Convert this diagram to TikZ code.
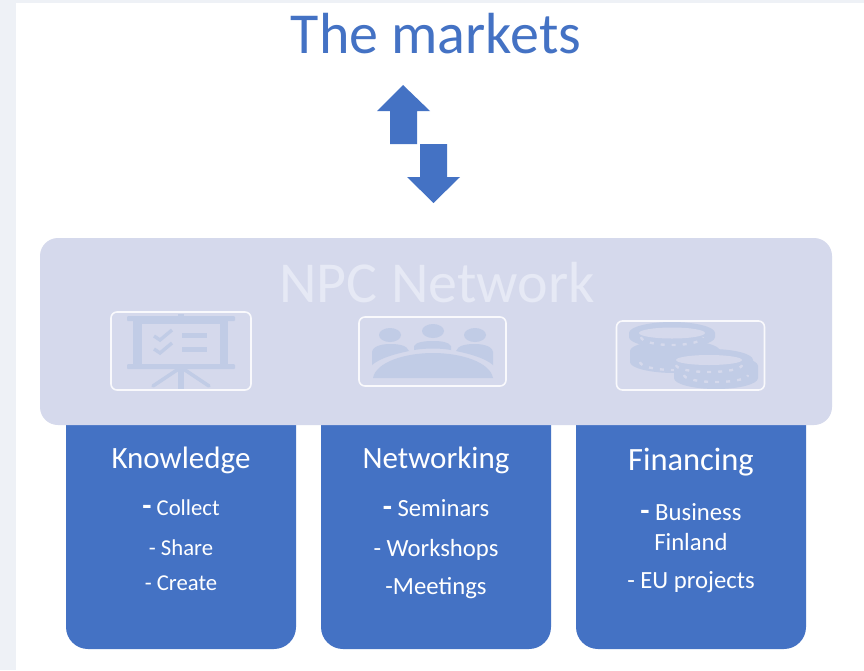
\documentclass[tikz,border=0pt]{standalone}
\usepackage{fontspec}
\setmainfont{Carlito}
\definecolor{mainblue}{HTML}{4472C4}
\definecolor{panelblue}{HTML}{D5D9EC}
\definecolor{iconblue}{HTML}{C1CCE6}
\definecolor{pagegrey}{HTML}{EEF1F6}
\definecolor{paneltext}{HTML}{E6E9F5}
\newcommand{\coinshape}[4]{% cx, cy, rx, height (y axis points down)
  \fill[iconblue] (#1-#3,#2) arc (180:360:#3 and 11) -- ++(0,#4) arc (0:180:#3 and 11) -- cycle;
}
\newcommand{\bigdashfont}{\fontsize{30}{30}\selectfont\bfseries}
\tikzset{
  panelbox/.style={fill=panelblue,rounded corners=18pt,inner sep=0pt,outer sep=0pt,minimum width=792pt,minimum height=187pt},
  column/.style={fill=mainblue,rounded corners=22pt,inner sep=0pt,outer sep=0pt,minimum width=230pt,minimum height=269pt},
  iconbox/.style={draw=white!85!panelblue,line width=1.6pt,rounded corners=6pt,inner sep=0pt,outer sep=0pt},
  bigarrow/.style={fill=mainblue},
  heading/.style={text=white,font=\fontsize{31}{31}\selectfont,inner sep=0pt},
  headingwide/.style={text=white,font=\fontsize{32.5}{32.5}\selectfont,inner sep=0pt},
  itemsmall/.style={text=white,font=\fontsize{22.7}{22.7}\selectfont,inner sep=0pt},
  item/.style={text=white,font=\fontsize{24.7}{24.7}\selectfont,inner sep=0pt},
  iconline/.style={draw=iconblue,line cap=round},
  coindash/.style={draw=panelblue,line width=2.4pt,dash pattern=on 4pt off 7pt},
}
\begin{document}
\begin{tikzpicture}[x=1pt,y=-1pt]
\useasboundingbox (0,0) rectangle (864,670);
\fill[pagegrey] (0,0) rectangle (864,670);
\fill[white] (16,3) rectangle (864,670);

\node[text=mainblue,font=\fontsize{58}{58}\selectfont,inner sep=0pt] (title) at (436,34) {The markets};

\fill[bigarrow] (403,85) -- (430,111) -- (417,111) -- (417,144) -- (390,144) -- (390,111) -- (377,111) -- cycle;
\fill[bigarrow] (420,144) -- (447,144) -- (447,177) -- (460,177) -- (433.5,203) -- (407,177) -- (420,177) -- cycle;

\node[column] (colA) at (181,514.5) {};
\node[column] (colB) at (436,514.5) {};
\node[column] (colC) at (691,514.5) {};
\node[panelbox] (panel) at (436,331.5) {};

\node[text=paneltext,font=\fontsize{58}{58}\selectfont,inner sep=0pt] (npc) at (437,283) {NPC Network};

% icon 1: presentation board
\fill[iconblue,rounded corners=1pt] (127,316) rectangle (235,321);
\fill[iconblue] (178,314) rectangle (184,318);
\fill[iconblue] (133,318) rectangle (142,366);
\fill[iconblue] (220,318) rectangle (228,366);
\fill[iconblue] (133,318) rectangle (228,324);
\fill[iconblue,rounded corners=1pt] (127,364) rectangle (235,369);
\fill[iconblue] (178,368) rectangle (184,389);
\draw[iconline,line width=3.5pt] (180,368) -- (153,386);
\draw[iconline,line width=3.5pt] (182,368) -- (209,386);
\draw[iconline,line width=3.4pt,line cap=butt] (154,336) -- (160,340) -- (172,330);
\draw[iconline,line width=3.4pt,line cap=butt] (154,349) -- (160,353) -- (172,343);
\fill[iconblue] (182,333) rectangle (207,338);
\fill[iconblue] (182,347) rectangle (207,352);
\node[iconbox,minimum width=140pt,minimum height=78pt] (iconA) at (181,351) {};

% icon 2: meeting
\fill[iconblue] (390,335) ellipse (11 and 7);
\fill[iconblue] (433,331) ellipse (11 and 7);
\fill[iconblue] (475,335) ellipse (11 and 7);
\fill[iconblue] (372,365) -- (372,352) .. controls (373,345) and (385,344) .. (390,344) .. controls (398,344) and (407,345) .. (409,351) .. controls (395,354) and (380,358) .. (372,365) -- cycle;
\fill[iconblue] (493,365) -- (493,352) .. controls (492,345) and (480,344) .. (475,344) .. controls (467,344) and (458,345) .. (456,351) .. controls (470,354) and (485,358) .. (493,365) -- cycle;
\fill[iconblue] (414,350) -- (414,346) .. controls (416,342) and (425,341) .. (433,341) .. controls (441,341) and (449,342) .. (451,346) -- (451,350) .. controls (440,348) and (426,348) .. (414,350) -- cycle;
\fill[iconblue] (373,378) .. controls (376,362) and (405,353) .. (433,353) .. controls (461,353) and (490,362) .. (493,378) -- cycle;
\node[iconbox,minimum width=147pt,minimum height=69pt] (iconB) at (432.5,351.5) {};

% icon 3: coins
\coinshape{675}{351}{45}{11}
\draw[coindash] (640,362) arc (180:0:34 and 8);
\coinshape{672}{333}{43}{4}
\draw[coindash] (641,337) arc (180:0:31 and 8);
\coinshape{716}{366}{42}{12}
\draw[coindash] (684,375) arc (180:0:32 and 7);
\coinshape{711}{360}{42}{3}
\draw[coindash] (676,365) arc (180:0:33 and 7);
\fill[panelblue] (672,333) ellipse (33 and 5.5);
\fill[panelblue] (709,360) ellipse (33 and 5);
\node[iconbox,minimum width=148pt,minimum height=69pt] (iconC) at (690.5,355.5) {};

% column texts
\node[heading] (ka) at (181,460) {Knowledge};
\node[itemsmall] (kb) at (181,508) {{\bigdashfont-} Collect};
\node[itemsmall] (kc) at (181,548) {- Share};
\node[itemsmall] (kd) at (181,583) {- Create};

\node[heading] (na) at (436,460) {Networking};
\node[item] (nb) at (436,508) {{\bigdashfont-} Seminars};
\node[item] (nc) at (436,550) {- Workshops};
\node[item] (nd) at (436,588) {-Meetings};

\node[headingwide] (fa) at (691,462) {Financing};
\node[item] (fb) at (691,512) {{\bigdashfont-} Business};
\node[item] (fc) at (691,542) {Finland};
\node[item] (fd) at (691,582) {- EU projects};
\end{tikzpicture}
\end{document}
